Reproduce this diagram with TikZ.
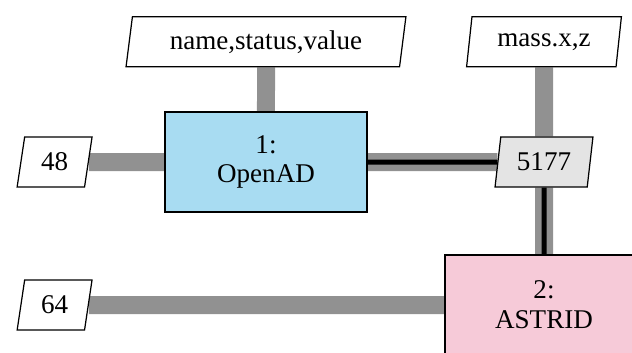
\documentclass[tikz,border=0pt]{standalone}
\usepackage{fontspec}
\setmainfont{Liberation Serif}
\newfontfamily\boxfont{Liberation Serif}
\usetikzlibrary{positioning, shapes.geometric, backgrounds}

\definecolor{toolblue}{RGB}{168,220,242}
\definecolor{toolpink}{RGB}{246,202,216}
\definecolor{datagray}{RGB}{228,228,228}
\definecolor{linkgray}{RGB}{145,145,145}

\begin{document}
\begin{tikzpicture}[x=0.02cm, y=-0.02cm,
            font=\boxfont\fontsize{15.4}{17}\selectfont,
            tool/.style={draw, line width=0.7pt, minimum width=4.04cm, minimum height=2cm, align=center},
            data/.style={draw, fill=white, line width=0.7pt, trapezium, trapezium left angle=80, trapezium right angle=100,
                trapezium stretches=true, minimum height=1cm, inner sep=1pt},
            link/.style={linkgray, line width=0.36cm},
            core/.style={black, line width=0.1cm}]

            \useasboundingbox (0,0) rectangle (632,352);

            % Tools
            \node[tool, fill=toolblue] (openad) at (266,162) {1:\\OpenAD};
            \node[tool, fill=toolpink, minimum width=3.96cm] (astrid) at (544,305) {2:\\ASTRID};

            % Data sets
            \node[data, minimum width=5.6cm, above=0.88cm of openad] (name) {name,status,value};
            \node[data, fill=datagray, minimum width=1.96cm] (v5177) at (544,162) {5177};
            \node[data, minimum width=3.1cm, above=1.38cm of v5177] (mass) {mass.x,z};
            \node[data, minimum width=1.5cm, left=1.51cm of openad] (in48) {48};
            \node[data, minimum width=1.5cm] (in64) at (in48 |- astrid) {64};

            % Links behind the boxes
            \begin{scope}[on background layer]
                \draw[link] (in48) -- (openad);
                \draw[link] (name) -- (openad);
                \draw[link] (mass) -- (v5177);
                \draw[link] (in64) -- (astrid);
                \draw[link] (openad) -- (v5177);
                \draw[link] (v5177) -- (astrid);
                \draw[core] (openad) -- (v5177);
                \draw[core] (v5177) -- (astrid);
            \end{scope}
        \end{tikzpicture}
\end{document}
